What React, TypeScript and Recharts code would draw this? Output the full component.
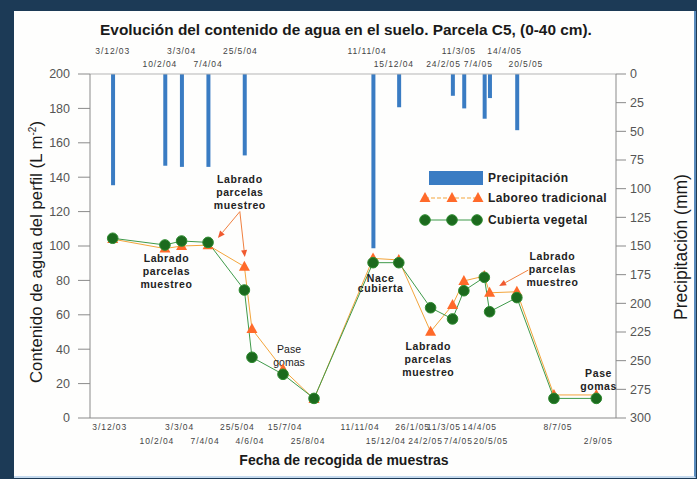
import { Bar, ComposedChart, Legend, Line, ReferenceDot, ReferenceLine, XAxis, YAxis } from 'recharts';

// fechas de muestreo (d/m/aa)
const sampleDates = [
    '3/12/03', '10/2/04', '3/3/04', '7/4/04', '25/5/04', '4/6/04', '15/7/04', '25/8/04', '11/11/04',
    '15/12/04', '26/1/05', '24/2/05', '11/3/05', '7/4/05', '14/4/05', '20/5/05', '8/7/05', '2/9/05',
];
const laboreoTradicional = [104, 98.5, 100, 100.5, 88, 51.7, 28.3, 11, 92.8, 91.9, 50.2, 65.7, 79.7, 82.5, 72.8, 73.4, 13.4, 13.4];
const cubiertaVegetal = [104.5, 100.6, 102.9, 102.1, 74.4, 35.3, 25.4, 11.4, 90.3, 90.3, 64.1, 57.6, 74, 81.8, 61.8, 70, 11.4, 11.4];

// lluvia entre muestreos (mm)
const rainDates = ['3/12/03', '10/2/04', '3/3/04', '7/4/04', '25/5/04', '11/11/04', '15/12/04', '24/2/05', '11/3/05', '7/4/05', '14/4/05', '20/5/05'];
const precipitacion = [97, 80, 81, 81, 71, 152, 29, 19, 30, 39, 21, 49];

const leftTicks = [0, 20, 40, 60, 80, 100, 120, 140, 160, 180, 200];
const rightTicks = [0, 25, 50, 75, 100, 125, 150, 175, 200, 225, 250, 275, 300];

const toDay = (s: string) => {
    const [d, m, y] = s.split('/').map(Number);
    return (Date.UTC(2000 + y, m - 1, d) - Date.UTC(2003, 11, 3)) / 86400000;
};

const rows = sampleDates.map((label, i) => {
    const r = rainDates.indexOf(label);
    return {
        day: toDay(label),
        label,
        laboreo: laboreoTradicional[i],
        cubierta: cubiertaVegetal[i],
        rain: r >= 0 ? precipitacion[r] : null,
    };
});
const labelOf = (day: number) => rows.find((r) => r.day === day)?.label ?? '';

const FONT = '"Liberation Sans", Arial, sans-serif';
const BLUE = '#3a7cc3';
const ORANGE = '#ff6a2a';
const ORANGE_LINE = '#f3a53c';
const GREEN = '#1c6a1e';
const GREEN_LINE = '#3f9a4a';

// label placement, as in the original sheet (labels nudged so they don't collide)
const lowTop = new Set(['10/2/04', '7/4/04', '15/12/04', '24/2/05', '7/4/05', '20/5/05']);
const topNudge: Record<string, number> = {
    '10/2/04': -5, '25/5/04': -4, '11/11/04': -6, '15/12/04': -5, '24/2/05': -9,
    '11/3/05': -5, '7/4/05': -6, '14/4/05': 15, '20/5/05': 9,
};
const bottomNudge: Record<string, number> = {
    '3/12/03': -3, '10/2/04': -8, '3/3/04': -2, '7/4/04': -3, '25/5/04': -7, '4/6/04': -2, '15/7/04': 2,
    '25/8/04': -6, '11/11/04': -13, '15/12/04': -13, '26/1/05': -18, '24/2/05': -27, '11/3/05': -20,
    '7/4/05': -26, '14/4/05': -10, '20/5/05': -26, '8/7/05': 4, '2/9/05': 2,
};

const tickText = { fontFamily: FONT, fontSize: 8.5, fill: '#444', letterSpacing: 0.9 };

const TopTick = (p: any) => {
    const label = labelOf(p.payload.value);
    return (
        <text x={p.x + (topNudge[label] ?? 0)} y={p.y - (lowTop.has(label) ? 7 : 20)} textAnchor="middle" {...tickText}>
            {label}
        </text>
    );
};

const BottomTick = (p: any) => {
    const label = labelOf(p.payload.value);
    return (
        <text x={p.x + (bottomNudge[label] ?? 0)} y={p.y + (p.index % 2 ? 25.5 : 11.5)} textAnchor="middle" {...tickText}>
            {label}
        </text>
    );
};

const Tri = (p: any) => {
    const { cx, cy, index } = p;
    if (cx == null || cy == null) return <g key={`t${index}`} />;
    return <path key={`t${index}`} d={`M${cx},${cy - 6}L${cx + 5.5},${cy + 4}L${cx - 5.5},${cy + 4}Z`} fill={ORANGE} />;
};

const Dot = (p: any) => {
    const { cx, cy, index } = p;
    if (cx == null || cy == null) return <g key={`c${index}`} />;
    return <circle key={`c${index}`} cx={cx} cy={cy} r={5.3} fill={GREEN} stroke="#2d8a2f" strokeWidth={1} />;
};

const note = (lines: string[], bold: boolean, gap = 13) => (p: any) => (
    <text x={p.cx} y={p.cy} textAnchor="middle" fontFamily={FONT} fontSize={10.5} fontWeight={bold ? 700 : 400} fill="#222" letterSpacing={bold ? 0.6 : 0}>
        {lines.map((l, i) => (
            <tspan key={i} x={p.cx} dy={i === 0 ? 4 : gap}>
                {l}
            </tspan>
        ))}
    </text>
);

const Arrow = (p: any) => {
    const { x1, y1, x2, y2 } = p;
    const a = Math.atan2(y2 - y1, x2 - x1);
    const bx = x2 - 7 * Math.cos(a);
    const by = y2 - 7 * Math.sin(a);
    const s = Math.sin(a) * 3;
    const c = Math.cos(a) * 3;
    return (
        <g>
            <line x1={x1} y1={y1} x2={bx} y2={by} stroke="#f08040" strokeWidth={1} />
            <polygon points={`${x2},${y2} ${bx - s},${by + c} ${bx + s},${by - c}`} fill="#f05a30" />
        </g>
    );
};

const LegendBox = () => (
    <svg width={206} height={64} style={{ display: 'block' }}>
        <rect x={10} y={1} width={54} height={14} fill={BLUE} />
        <line x1={6} y1={28} x2={59} y2={28} stroke={ORANGE_LINE} strokeDasharray="4 2" />
        {[6, 33, 59].map((x) => (
            <path key={x} d={`M${x},${22}L${x + 5.5},${32}L${x - 5.5},${32}Z`} fill={ORANGE} />
        ))}
        <line x1={6} y1={50} x2={58} y2={50} stroke={GREEN_LINE} />
        {[6, 33, 58].map((x) => (
            <circle key={x} cx={x} cy={50} r={5.3} fill={GREEN} stroke="#2d8a2f" />
        ))}
        <g fontFamily={FONT} fontSize={12} fontWeight={700} fill="#222" letterSpacing={0.4}>
            <text x={69} y={12}>Precipitación</text>
            <text x={69} y={32}>Laboreo tradicional</text>
            <text x={69} y={54}>Cubierta vegetal</text>
        </g>
    </svg>
);

export default function App() {
    return (
        <div style={{ position: 'relative', width: 697, height: 479, background: '#1c3a56', overflow: 'hidden', fontFamily: FONT }}>
            <style>{'body{margin:0}'}</style>
            <div
                style={{
                    position: 'absolute',
                    left: 14,
                    top: 11,
                    width: 680,
                    height: 465,
                    background: '#fefefd',
                    borderRight: '2px solid #5a8cbd',
                    borderBottom: '2px solid #c5daee',
                }}
            />
            <ComposedChart
                width={697}
                height={479}
                data={rows}
                margin={{ top: 44, right: 41, bottom: 21, left: 30 }}
                style={{ position: 'absolute', left: 0, top: 0 }}
            >
                <XAxis
                    xAxisId="bottom"
                    dataKey="day"
                    type="number"
                    domain={[-30, 665]}
                    ticks={rows.map((r) => r.day)}
                    interval={0}
                    height={40}
                    tickLine={false}
                    tickSize={0}
                    tickMargin={0}
                    axisLine={{ stroke: '#8a8a8a' }}
                    tick={BottomTick}
                />
                <XAxis
                    xAxisId="top"
                    dataKey="day"
                    type="number"
                    orientation="top"
                    domain={[-30, 665]}
                    ticks={rainDates.map(toDay)}
                    interval={0}
                    height={30}
                    tickLine={false}
                    tickSize={0}
                    tickMargin={0}
                    axisLine={{ stroke: '#b5b5b5' }}
                    tick={TopTick}
                />
                <YAxis
                    yAxisId="left"
                    domain={[0, 200]}
                    ticks={leftTicks}
                    interval={0}
                    width={60}
                    tickSize={12}
                    tickMargin={8}
                    axisLine={{ stroke: '#8a8a8a' }}
                    tickLine={{ stroke: '#8a8a8a' }}
                    tick={{ fontFamily: FONT, fontSize: 12.5, fill: '#555' }}
                />
                <YAxis
                    yAxisId="right"
                    orientation="right"
                    reversed
                    domain={[0, 300]}
                    ticks={rightTicks}
                    interval={0}
                    width={40}
                    tickSize={10}
                    tickMargin={4}
                    axisLine={{ stroke: '#8a8a8a' }}
                    tickLine={{ stroke: '#8a8a8a' }}
                    tick={{ fontFamily: FONT, fontSize: 12.5, fill: '#555' }}
                />
                <Bar xAxisId="top" yAxisId="right" dataKey="rain" name="Precipitación" fill={BLUE} barSize={4} isAnimationActive={false} />
                <Line
                    xAxisId="bottom"
                    yAxisId="left"
                    dataKey="laboreo"
                    name="Laboreo tradicional"
                    stroke={ORANGE_LINE}
                    strokeWidth={1}
                    dot={Tri}
                    activeDot={false}
                    isAnimationActive={false}
                />
                <Line
                    xAxisId="bottom"
                    yAxisId="left"
                    dataKey="cubierta"
                    name="Cubierta vegetal"
                    stroke={GREEN_LINE}
                    strokeWidth={1}
                    dot={Dot}
                    activeDot={false}
                    isAnimationActive={false}
                />

                <ReferenceLine xAxisId="bottom" yAxisId="left" segment={[{ x: 168, y: 120 }, { x: 139, y: 104.7 }]} shape={Arrow} />
                <ReferenceLine xAxisId="bottom" yAxisId="left" segment={[{ x: 168, y: 120 }, { x: 174.6, y: 93.6 }]} shape={Arrow} />
                <ReferenceLine xAxisId="bottom" yAxisId="left" segment={[{ x: 549, y: 86 }, { x: 510.6, y: 76.7 }]} shape={Arrow} />

                <ReferenceDot xAxisId="bottom" yAxisId="left" x={168} y={139} shape={note(['Labrado', 'parcelas', 'muestreo'], true)} />
                <ReferenceDot xAxisId="bottom" yAxisId="left" x={71} y={93} shape={note(['Labrado', 'parcelas', 'muestreo'], true)} />
                <ReferenceDot xAxisId="bottom" yAxisId="left" x={233} y={40} shape={note(['Pase', 'gomas'], false)} />
                <ReferenceDot xAxisId="bottom" yAxisId="left" x={354} y={81.4} shape={note(['Nace', 'cubierta'], true, 10.5)} />
                <ReferenceDot xAxisId="bottom" yAxisId="left" x={417} y={42} shape={note(['Labrado', 'parcelas', 'muestreo'], true)} />
                <ReferenceDot xAxisId="bottom" yAxisId="left" x={581} y={94.2} shape={note(['Labrado', 'parcelas', 'muestreo'], true)} />
                <ReferenceDot xAxisId="bottom" yAxisId="left" x={642} y={26.2} shape={note(['Pase', 'gomas'], true)} />

                <Legend
                    layout="vertical"
                    align="center"
                    verticalAlign="middle"
                    content={LegendBox}
                    wrapperStyle={{ left: 419, top: 170, width: 206, height: 64 }}
                />
            </ComposedChart>
            <svg width={697} height={479} style={{ position: 'absolute', left: 0, top: 0, pointerEvents: 'none' }}>
                <text x={346} y={35} textAnchor="middle" fontFamily={FONT} fontSize={15.4} fontWeight={700} fill="#1a1a1a">
                    Evolución del contenido de agua en el suelo. Parcela C5, (0-40 cm).
                </text>
                <text x={344} y={465} textAnchor="middle" fontFamily={FONT} fontSize={14} fontWeight={700} fill="#1a1a1a">
                    Fecha de recogida de muestras
                </text>
                <text transform="translate(42,252) rotate(-90)" textAnchor="middle" fontFamily={FONT} fontSize={16.8} fill="#1a1a1a">
                    Contenido de agua del perfil (L m
                    <tspan fontSize={10} dy={-6}>-2</tspan>
                    <tspan dy={6}>)</tspan>
                </text>
                <text transform="translate(687,247) rotate(-90)" textAnchor="middle" fontFamily={FONT} fontSize={17.5} fill="#1a1a1a">
                    Precipitación (mm)
                </text>
            </svg>
        </div>
    );
}
